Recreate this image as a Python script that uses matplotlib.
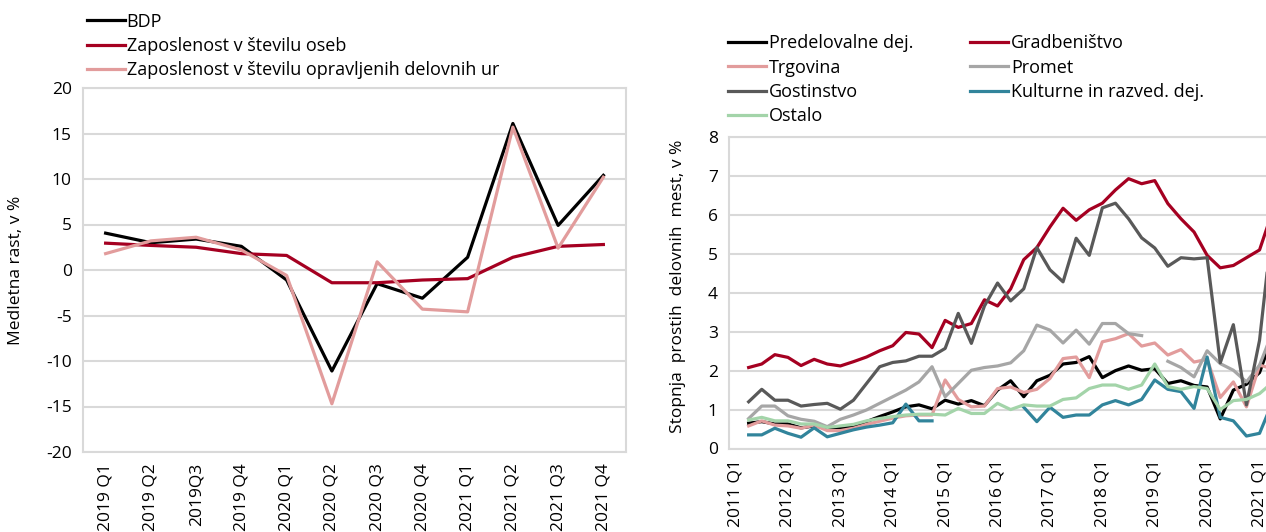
import numpy as np
import matplotlib
matplotlib.use("Agg")
import matplotlib.pyplot as plt

plt.rcParams["font.family"] = ["Open Sans", "DejaVu Sans"]
plt.rcParams["font.size"] = 12.5
plt.rcParams["axes.unicode_minus"] = False

nan = np.nan

# left panel: year-on-year growth, %
quarters_l = ["2019 Q1", "2019 Q2", "2019Q3", "2019 Q4", "2020 Q1", "2020 Q2",
              "2020 Q3", "2020 Q4", "2021 Q1", "2021 Q2", "2021 Q3", "2021 Q4"]
bdp = [4.05, 3.0, 3.4, 2.6, -1.1, -11.1, -1.5, -3.1, 1.4, 16.1, 4.9, 10.4]
zap_osebe = [2.95, 2.7, 2.5, 1.8, 1.6, -1.4, -1.4, -1.1, -0.95, 1.4, 2.6, 2.8]
zap_ure = [1.8, 3.2, 3.6, 2.2, -0.6, -14.7, 0.9, -4.3, -4.6, 15.7, 2.4, 10.2]

# right panel: job vacancy rate, %, quarterly from 2011 Q1 (first quarter empty)
q_years = list(range(2011, 2022))
predelovalne = [nan, 0.65, 0.69, 0.63, 0.63, 0.53, 0.58, 0.53, 0.52, 0.56, 0.69,
                0.82, 0.94, 1.07, 1.12, 1.02, 1.24, 1.14, 1.23, 1.10, 1.50,
                1.74, 1.33, 1.74, 1.88, 2.17, 2.21, 2.36, 1.82, 2.00, 2.12,
                2.01, 2.05, 1.67, 1.74, 1.62, 1.58, 0.76, 1.50, 1.65, 1.95, 2.90]
gradbenistvo = [nan, 2.08, 2.17, 2.41, 2.34, 2.13, 2.29, 2.17, 2.12, 2.23, 2.35,
                2.51, 2.64, 2.98, 2.94, 2.59, 3.29, 3.11, 3.21, 3.82, 3.66,
                4.10, 4.85, 5.16, 5.69, 6.17, 5.86, 6.13, 6.30, 6.64, 6.93,
                6.80, 6.88, 6.29, 5.90, 5.56, 4.96, 4.64, 4.70, 4.90, 5.10, 6.10]
trgovina = [nan, 0.58, 0.71, 0.60, 0.58, 0.52, 0.60, 0.46, 0.46, 0.52, 0.62,
            0.70, 0.78, 0.84, 0.86, 0.86, 1.76, 1.26, 1.07, 1.09, 1.54,
            1.58, 1.44, 1.52, 1.80, 2.31, 2.35, 1.82, 2.74, 2.82, 2.95,
            2.63, 2.71, 2.40, 2.54, 2.22, 2.29, 1.31, 1.71, 1.07, 2.14, 2.05]
promet = [nan, 0.77, 1.09, 1.09, 0.84, 0.75, 0.70, 0.56, 0.75, 0.86, 0.99,
          1.16, 1.33, 1.50, 1.71, 2.10, 1.33, 1.67, 2.01, 2.08, 2.12,
          2.20, 2.51, 3.17, 3.04, 2.71, 3.04, 2.68, 3.21, 3.21, 2.95,
          2.90, nan, 2.24, 2.08, 1.84, 2.51, 2.18, 2.01, 1.71, 2.14, 3.00]
gostinstvo = [nan, 1.20, 1.52, 1.24, 1.24, 1.09, 1.13, 1.16, 1.01, 1.24, 1.67,
              2.10, 2.21, 2.25, 2.37, 2.37, 2.57, 3.47, 2.70, 3.66, 4.25,
              3.79, 4.10, 5.16, 4.59, 4.28, 5.40, 4.96, 6.18, 6.30, 5.90,
              5.41, 5.15, 4.68, 4.90, 4.87, 4.90, 2.20, 3.18, 1.12, 2.78, 5.80]
kulturne = [nan, 0.35, 0.35, 0.52, 0.39, 0.29, 0.53, 0.30, 0.39, 0.48, 0.55,
            0.60, 0.66, 1.14, 0.71, 0.71, nan, nan, nan, nan, nan,
            nan, 1.06, 0.69, 1.06, 0.80, 0.86, 0.86, 1.12, 1.23, 1.12,
            1.26, 1.76, 1.52, 1.46, 1.03, 2.35, 0.80, 0.71, 0.32, 0.39, 1.20]
ostalo = [nan, 0.73, 0.80, 0.71, 0.71, 0.63, 0.63, 0.54, 0.58, 0.62, 0.71,
          0.77, 0.82, 0.86, 0.88, 0.88, 0.86, 1.03, 0.90, 0.90, 1.16,
          1.00, 1.12, 1.09, 1.09, 1.26, 1.30, 1.54, 1.63, 1.63, 1.52,
          1.63, 2.17, 1.59, 1.52, 1.59, 1.54, 1.00, 1.23, 1.26, 1.41, 1.70]

BLACK = "#000000"
RED = "#a50021"
PINK = "#e29c9c"
GREY = "#a6a6a6"
DGREY = "#595959"
TEAL = "#31849b"
GREEN = "#a3d4a9"
GRID = "#d9d9d9"
LW = 2.3

fig = plt.figure(figsize=(12.66, 5.32), dpi=100)

# ---- left panel
axl = fig.add_axes([83 / 1266, 80 / 532, 543 / 1266, 364 / 532])
xl = np.arange(len(quarters_l))
l1, = axl.plot(xl, bdp, color=BLACK, lw=LW, label="BDP")
l2, = axl.plot(xl, zap_osebe, color=RED, lw=LW, label="Zaposlenost v številu oseb")
l3, = axl.plot(xl, zap_ure, color=PINK, lw=LW,
               label="Zaposlenost v številu opravljenih delovnih ur")
axl.set_xlim(-0.5, len(quarters_l) - 0.5)
axl.set_ylim(-20, 20)
axl.set_yticks(range(-20, 21, 5))
axl.set_xticks(xl)
axl.set_xticklabels(quarters_l, rotation=90)
axl.set_ylabel("Medletna rast, v %")
axl.yaxis.set_label_coords(-0.109, 0.5)
axl.grid(axis="y", color=GRID, lw=1.5)
for s in axl.spines.values():
    s.set_color(GRID)
    s.set_linewidth(1.5)
axl.tick_params(length=0, pad=8)
axl.set_axisbelow(True)

fig.legend(handles=[l1, l2, l3], loc="upper left", bbox_to_anchor=(74 / 1266, 1.0),
           frameon=False, handlelength=2.1, handletextpad=0.12, labelspacing=0.35,
           borderpad=0.2, fontsize=13)

# ---- right panel
n_q = 44
axr = fig.add_axes([729 / 1266, 83.5 / 532, n_q * 13.1 / 1266, 311.5 / 532])
xr = np.arange(len(gradbenistvo))
series = [
    (predelovalne, BLACK, "Predelovalne dej."),
    (gradbenistvo, RED, "Gradbeništvo"),
    (trgovina, PINK, "Trgovina"),
    (promet, GREY, "Promet"),
    (gostinstvo, DGREY, "Gostinstvo"),
    (kulturne, TEAL, "Kulturne in razved. dej."),
    (ostalo, GREEN, "Ostalo"),
]
hs = {}
for vals, col, lab in series:
    h, = axr.plot(xr, vals, color=col, lw=LW, label=lab)
    hs[lab] = h
axr.set_xlim(-0.5, n_q - 0.5)
axr.set_ylim(0, 8)
axr.set_yticks(range(0, 9))
axr.set_xticks(np.arange(0, n_q, 4))
axr.set_xticklabels([f"{y} Q1" for y in q_years], rotation=90)
axr.set_ylabel("Stopnja  prostih  delovnih  mest, v %")
axr.yaxis.set_label_coords(-0.0746, 0.52)
axr.grid(axis="y", color=GRID, lw=1.5)
for s in axr.spines.values():
    s.set_color(GRID)
    s.set_linewidth(1.5)
axr.tick_params(length=0, pad=8)
axr.set_axisbelow(True)

order = ["Predelovalne dej.", "Trgovina", "Gostinstvo", "Ostalo",
         "Gradbeništvo", "Promet", "Kulturne in razved. dej."]
fig.legend(handles=[hs[k] for k in order], loc="upper left",
           bbox_to_anchor=(715 / 1266, 0.959), ncol=2, frameon=False,
           handlelength=2.15, handletextpad=0.15, labelspacing=0.35,
           columnspacing=3.1, borderpad=0.2, fontsize=13)

fig.savefig("out.png", dpi=100)
